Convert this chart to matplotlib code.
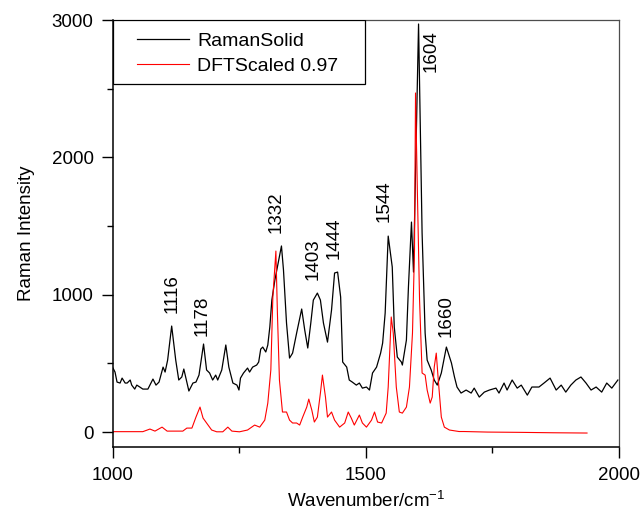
import numpy as np
import matplotlib
matplotlib.use("Agg")
import matplotlib.pyplot as plt
from matplotlib.ticker import MultipleLocator
from matplotlib.patches import Rectangle

plt.rcParams['font.family'] = ['Liberation Sans', 'DejaVu Sans']
plt.rcParams['mathtext.default'] = 'regular'

# Raman spectrum of the solid
raman_wn = [1000, 1004, 1008, 1014, 1018, 1024, 1028, 1034, 1037, 1043, 1047, 1053, 1059,
            1069, 1079, 1085, 1091, 1099, 1103, 1108, 1116, 1124, 1130, 1136, 1140, 1146,
            1150, 1158, 1164, 1170, 1179, 1185, 1191, 1197, 1203, 1207, 1215, 1223, 1229,
            1237, 1245, 1249, 1252, 1258, 1266, 1270, 1276, 1284, 1288, 1292, 1296, 1302,
            1306, 1310, 1314, 1320, 1325, 1333, 1337, 1343, 1349, 1355, 1363, 1373, 1379,
            1385, 1391, 1396, 1404, 1410, 1416, 1424, 1432, 1438, 1444, 1450, 1454, 1462,
            1467, 1473, 1481, 1487, 1493, 1501, 1507, 1513, 1521, 1529, 1533, 1538, 1544,
            1552, 1556, 1562, 1570, 1572, 1580, 1584, 1590, 1594, 1604, 1611, 1617, 1621,
            1629, 1635, 1641, 1649, 1659, 1669, 1675, 1680, 1688, 1698, 1708, 1714, 1724,
            1734, 1744, 1757, 1763, 1773, 1779, 1789, 1799, 1807, 1819, 1828, 1842, 1852,
            1864, 1876, 1886, 1895, 1905, 1915, 1925, 1935, 1945, 1955, 1966, 1976, 1986,
            1998]
raman_int = [466, 437, 364, 357, 393, 357, 357, 379, 342, 313, 342, 328, 313,
             313, 386, 342, 364, 473, 437, 524, 772, 524, 379, 401, 459, 364,
             299, 357, 364, 415, 641, 452, 430, 379, 415, 379, 452, 634, 473,
             357, 342, 306, 393, 430, 466, 437, 473, 488, 510, 604, 619, 583,
             634, 765, 961, 1107, 1202, 1355, 1180, 794, 539, 575, 721, 896, 743,
             612, 794, 961, 1012, 961, 794, 655, 889, 1158, 1165, 983, 510, 473,
             379, 364, 342, 357, 320, 328, 306, 430, 473, 575, 648, 867, 1427,
             1202, 765, 546, 510, 488, 670, 1056, 1529, 1165, 2971, 1449, 721, 524,
             452, 379, 342, 430, 619, 503, 401, 328, 284, 306, 284, 320, 255,
             291, 306, 320, 284, 357, 306, 379, 320, 342, 269, 328, 328, 357,
             393, 306, 342, 291, 342, 379, 401, 357, 306, 328, 291, 357, 320,
             379]

# DFT spectrum scaled by 0.97
dft_wn = [1000, 1059, 1073, 1083, 1097, 1107, 1138, 1146, 1156, 1164, 1172, 1178, 1185,
          1195, 1205, 1217, 1227, 1235, 1250, 1266, 1280, 1290, 1300, 1306, 1312, 1316,
          1322, 1325, 1329, 1335, 1343, 1349, 1355, 1363, 1369, 1375, 1383, 1387, 1393,
          1398, 1404, 1410, 1414, 1420, 1424, 1432, 1438, 1448, 1458, 1465, 1471, 1477,
          1487, 1493, 1501, 1511, 1517, 1523, 1531, 1540, 1544, 1550, 1554, 1560, 1566,
          1572, 1580, 1586, 1592, 1596, 1598, 1602, 1606, 1611, 1617, 1621, 1627, 1631,
          1635, 1639, 1643, 1649, 1655, 1665, 1684, 1694, 1740, 1803, 1870, 1937]
dft_int = [3, 3, 22, 7, 36, 7, 7, 29, 29, 109, 182, 102, 66,
           15, 2, 2, 36, 7, 2, 15, 51, 36, 87, 211, 452, 983,
           1318, 867, 379, 146, 146, 87, 66, 66, 51, 109, 182, 240, 160,
           73, 109, 284, 415, 255, 109, 146, 87, 36, 66, 146, 102, 51,
           124, 66, 36, 87, 146, 73, 66, 138, 328, 838, 721, 328, 146,
           138, 182, 328, 721, 1325, 2469, 1690, 961, 430, 415, 306, 211, 255,
           473, 575, 379, 109, 36, 15, 4, 4, 0, -2, -5, -7]

# peak labels: text, wavenumber, intensity at the bottom of the label
peak_labels = ["1116", "1178", "1332", "1403", "1444", "1544", "1604", "1660"]
label_wn = [1116, 1177, 1323, 1396, 1438, 1535, 1629, 1659]
label_int = [870, 700, 1450, 1105, 1260, 1530, 2620, 690]

fig = plt.figure(figsize=(6.42, 5.14), dpi=100)
ax = fig.add_axes([0.176, 0.130, 0.788, 0.831])

ax.plot(raman_wn, raman_int, color='black', lw=0.9, label='RamanSolid')
ax.plot(dft_wn, dft_int, color='red', lw=0.8, label='DFTScaled 0.97')

for txt, xw, yi in zip(peak_labels, label_wn, label_int):
    ax.text(xw, yi, txt, rotation=90, ha='center', va='bottom', fontsize=13.5)

ax.set_xlim(1000, 2000)
ax.set_ylim(-110, 3000)
ax.xaxis.set_major_locator(MultipleLocator(500))
ax.xaxis.set_minor_locator(MultipleLocator(250))
ax.yaxis.set_major_locator(MultipleLocator(1000))
ax.yaxis.set_minor_locator(MultipleLocator(500))
ax.tick_params(which='major', direction='out', length=8, width=1, labelsize=13.5, pad=6)
ax.tick_params(which='minor', direction='out', length=4, width=1)
ax.tick_params(top=False, right=False)

for s in ['left', 'bottom']:
    ax.spines[s].set_linewidth(1.1)
for s in ['top', 'right']:
    ax.spines[s].set_linewidth(0.9)
    ax.spines[s].set_color('0.3')

ax.set_xlabel('Wavenumber/cm$^{-1}$', fontsize=13.5, labelpad=5)
ax.set_ylabel('Raman Intensity', fontsize=13.5, labelpad=12)

# legend without its own frame, boxed by a rectangle against the top-left corner
leg = ax.legend(loc='upper left', bbox_to_anchor=(0.024, 0.998), borderaxespad=0,
                frameon=False, fontsize=14, handlelength=2.7, handletextpad=0.4,
                borderpad=0.6, labelspacing=0.35)
ax.add_patch(Rectangle((0, 1 - 64 / 427), 253 / 507, 64 / 427, transform=ax.transAxes,
                       facecolor='white', edgecolor='black', lw=0.9, zorder=4))
leg.set_zorder(5)

fig.savefig('out.png', dpi=100)
